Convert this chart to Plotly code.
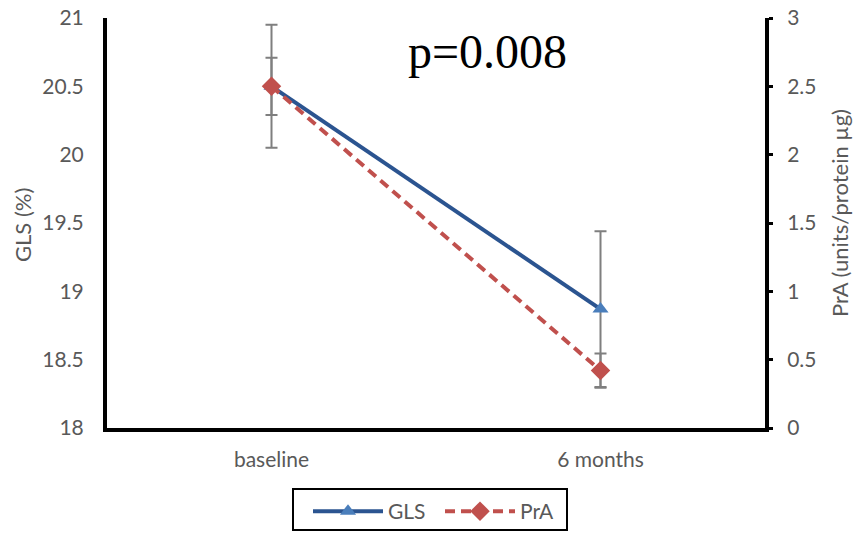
import plotly.graph_objects as go

categories = ["baseline", "6 months"]
gls = [20.5, 18.87]
gls_err = [0.45, 0.57]
pra = [2.5, 0.42]
pra_err = [0.21, 0.125]
left_ticks = [18, 18.5, 19, 19.5, 20, 20.5, 21]
right_ticks = [0, 0.5, 1, 1.5, 2, 2.5, 3]

# page body margin is removed by post_script, so page pixels == figure pixels
W, H = 857, 536
PL, PR, PT, PB = 107, 765, 18, 428          # plot area in page pixels
L, R, T, B = PL, W - PR, PT, H - PB
pw, ph = W - L - R, H - T - B

def px_x(x):
    return (x - L) / pw

def px_y(y):
    return (H - B - y) / ph

FONT = "Lato, Carlito, Calibri, sans-serif"
GRAY = "#595959"

fig = go.Figure()
fig.add_trace(go.Scatter(
    x=categories, y=gls, name="GLS", mode="lines+markers",
    line=dict(color="#2B5490", width=4),
    marker=dict(symbol="triangle-up", size=14, color="#4A7EBB"),
    error_y=dict(type="data", array=gls_err, visible=True,
                 color="#7F7F7F", thickness=2, width=6),
    yaxis="y",
))
fig.add_trace(go.Scatter(
    x=categories, y=pra, name="PrA", mode="lines+markers",
    line=dict(color="#C0504D", width=4, dash="10px,6px"),
    marker=dict(symbol="diamond", size=15, color="#C0504D"),
    error_y=dict(type="data", array=pra_err, visible=True,
                 color="#7F7F7F", thickness=2, width=6),
    yaxis="y2",
))

fig.update_layout(
    width=W, height=H,
    margin=dict(l=L, r=R, t=T, b=B, pad=0, autoexpand=False),
    paper_bgcolor="white", plot_bgcolor="white",
    font=dict(family=FONT, size=21, color=GRAY),
    xaxis=dict(
        type="category", range=[-0.5, 1.5],
        showline=True, linecolor="black", linewidth=4,
        showgrid=False, zeroline=False, ticks="",
        ticklabelstandoff=10, ticklabeloverflow="allow",
        tickfont=dict(family=FONT, size=21, color=GRAY),
    ),
    yaxis=dict(
        range=[18, 21], tickvals=left_ticks,
        ticktext=[f"{v:g}" for v in left_ticks],
        showline=True, linecolor="black", linewidth=4,
        showgrid=False, zeroline=False, ticks="",
        ticklabelstandoff=15, ticklabeloverflow="allow",
        tickfont=dict(family=FONT, size=21, color=GRAY),
    ),
    yaxis2=dict(
        range=[0, 3], tickvals=right_ticks,
        ticktext=[f"{v:g}" for v in right_ticks],
        overlaying="y", side="right",
        showline=True, linecolor="black", linewidth=4,
        showgrid=False, zeroline=False,
        ticks="outside", ticklen=4, tickwidth=3, tickcolor="black",
        ticklabelstandoff=10, ticklabeloverflow="allow",
        tickfont=dict(family=FONT, size=21, color=GRAY),
    ),
    legend=dict(
        orientation="h", x=px_x(308), y=px_y(491),
        xanchor="left", yanchor="top",
        borderwidth=0,
        itemwidth=70, entrywidth=47,
        font=dict(family=FONT, size=21, color=GRAY),
        bgcolor="rgba(0,0,0,0)",
    ),
    showlegend=True,
)

# legend frame
fig.add_shape(
    type="rect", xref="paper", yref="paper",
    x0=px_x(293), x1=px_x(567), y0=px_y(489), y1=px_y(530),
    line=dict(color="black", width=2), fillcolor="rgba(0,0,0,0)",
    layer="above",
)

fig.add_annotation(
    text="p=0.008", xref="paper", yref="paper",
    x=px_x(488), y=px_y(52), xanchor="center", yanchor="middle",
    showarrow=False,
    font=dict(family="Liberation Serif, Times New Roman, serif", size=48, color="black"),
)
fig.add_annotation(
    text="GLS (%)", xref="paper", yref="paper",
    x=px_x(22), y=px_y(225), xanchor="center", yanchor="middle",
    textangle=-90, showarrow=False,
    font=dict(family=FONT, size=22, color=GRAY),
)
fig.add_annotation(
    text="PrA (units/protein µg)", xref="paper", yref="paper",
    x=px_x(839), y=px_y(213), xanchor="center", yanchor="middle",
    textangle=-90, showarrow=False,
    font=dict(family=FONT, size=22, color=GRAY),
)

fig.write_html(
    "out.html",
    config={"displayModeBar": False},
    post_script="document.body.style.margin='0px';document.body.style.overflow='hidden';",
)
